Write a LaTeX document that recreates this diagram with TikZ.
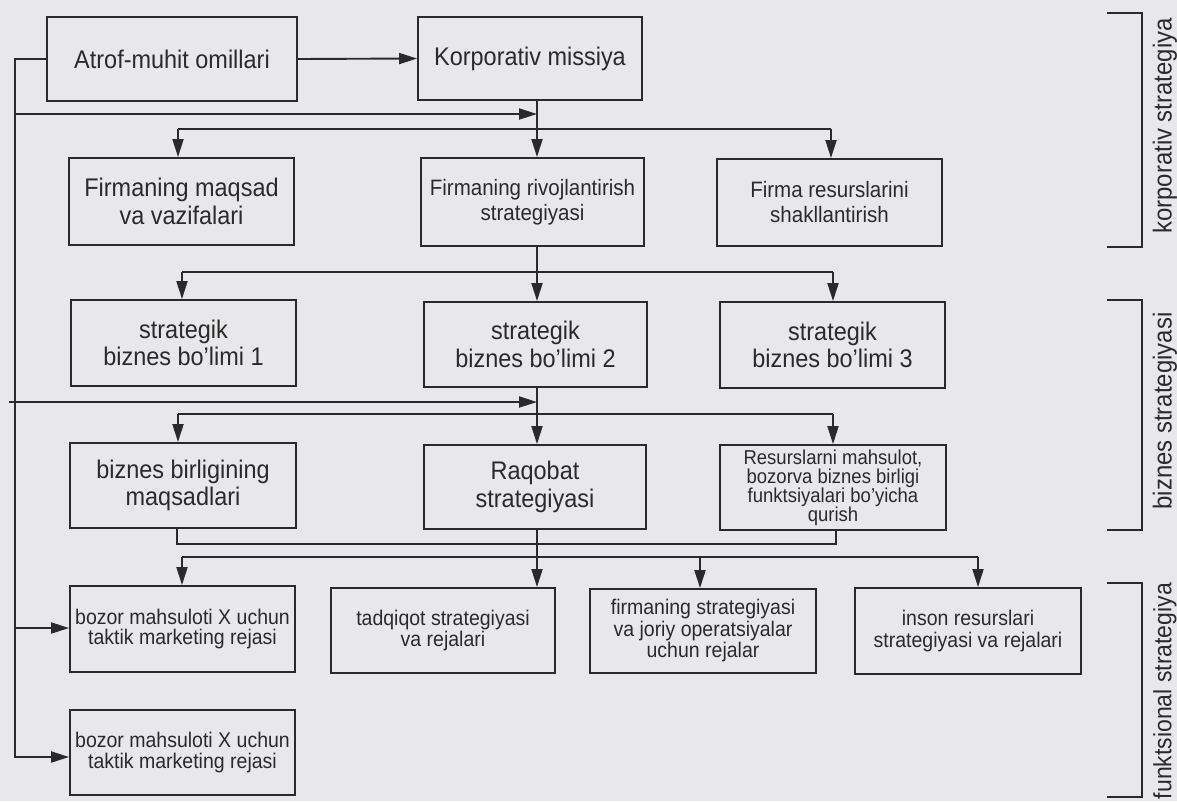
\documentclass[tikz,border=0pt]{standalone}
\usepackage{fontspec}
\setmainfont{Liberation Sans}[FakeStretch=0.92]
\usetikzlibrary{arrows.meta,calc}
\definecolor{bg}{RGB}{232,232,234}
\definecolor{ink}{RGB}{42,42,42}
\begin{document}
\begin{tikzpicture}[x=1pt,y=-1pt]
\tikzset{
 box/.style={draw=ink, line width=1.9pt, text=ink, inner sep=0pt, align=center, font=\fontsize{25.5}{27.5}\selectfont},
 mbox/.style={box, font=\fontsize{22.3}{25}\selectfont},
 sbox/.style={box, font=\fontsize{21.2}{20.5}\selectfont},
 ln/.style={draw=ink, line width=1.9pt},
 arr/.style={ln, -{Triangle[length=18pt,width=11pt]}},
 lab/.style={text=ink, rotate=90, font=\fontsize{26}{28}\selectfont, inner sep=0pt},
}
\fill[bg] (0,0) rectangle (1177,801);
\useasboundingbox (0,0) rectangle (1177,801);

% row 1
\node[box, minimum width=250pt, minimum height=84pt] (atrof) at (172,59) {Atrof-muhit omillari};
\node[box, minimum width=224pt, minimum height=83pt] (korp) at (530,58.5) {Korporativ missiya};
% row 2
\node[box, minimum width=225pt, minimum height=87pt] (maq) at (181.5,201.5) {Firmaning maqsad\\va vazifalari};
\node[mbox, minimum width=223pt, minimum height=88pt] (rivo) at (532.5,202) {Firmaning rivojlantirish\\strategiyasi};
\node[mbox, minimum width=225pt, minimum height=87pt] (fres) at (829.5,202.5) {Firma resurslarini\\shakllantirish};
% row 3
\node[box, minimum width=225pt, minimum height=86pt] (sb1) at (183.5,343) {strategik\\biznes bo'limi 1};
\node[box, minimum width=223pt, minimum height=85pt] (sb2) at (535.5,344.5) {strategik\\biznes bo'limi 2};
\node[box, minimum width=225pt, minimum height=86pt] (sb3) at (832.5,345) {strategik\\biznes bo'limi 3};
% row 4
\node[box, minimum width=226pt, minimum height=85pt] (bbm) at (183,485.5) {biznes birligining\\maqsadlari};
\node[box, minimum width=222pt, minimum height=84pt] (raq) at (535,487) {Raqobat\\strategiyasi};
\node[sbox, font=\fontsize{20.1}{19}\selectfont, minimum width=226pt, minimum height=85pt] (rbq) at (833,487.5) {Resurslarni mahsulot,\\bozorva biznes birligi\\funktsiyalari bo'yicha\\qurish};
% row 5
\node[sbox, minimum width=225pt, minimum height=86pt] (bz1) at (182.5,629) {bozor mahsuloti X uchun\\taktik marketing rejasi};
\node[sbox, minimum width=224pt, minimum height=85pt] (tad) at (443,630.5) {tadqiqot strategiyasi\\va rejalari};
\node[sbox, font=\fontsize{21.2}{21.5}\selectfont, minimum width=226pt, minimum height=84pt] (fsj) at (703,631) {firmaning strategiyasi\\va joriy operatsiyalar\\uchun rejalar};
\node[sbox, font=\fontsize{21.2}{22}\selectfont, minimum width=226pt, minimum height=86pt] (ins) at (968,631) {inson resurslari\\strategiyasi va rejalari};
% row 6
\node[sbox, minimum width=225pt, minimum height=85pt] (bz2) at (182.5,752.5) {bozor mahsuloti X uchun\\taktik marketing rejasi};

% side labels
\node[lab] (lk) at (1165,126) {korporativ strategiya};
\node[lab] (lb) at (1165,411) {biznes strategiyasi};
\node[lab, font=\fontsize{25}{27}\selectfont] (lf) at (1165,691) {funktsional strategiya};

% helper coordinates
\coordinate (v) at (537,0);
\coordinate (bus0) at (15,114);
\coordinate (bus1) at (15,628);
\coordinate (busB) at (15,757);
\coordinate (h1L) at (178,129);
\coordinate (h1R) at (831,129);
\coordinate (h2L) at (182,272);
\coordinate (h2R) at (833,272);
\coordinate (e3) at (9,402);
\coordinate (h3L) at (178,414);
\coordinate (h3R) at (833,414);
\coordinate (q1) at (177,544);
\coordinate (q2) at (836,544);
\coordinate (h4L) at (182,557);
\coordinate (h4M) at (700,557);
\coordinate (h4R) at (978,557);

% connectors
\draw[arr] (atrof.east) -- (korp.west);
\draw[arr] (atrof.west) -| (busB) -- (busB -| bz2.west);
\draw[arr] (bus1) -- (bus1 -| bz1.west);
\draw[arr] (bus0) -- (bus0 -| v);
\draw[arr] (korp.south -| v) -- (rivo.north -| v);
\draw[ln] (h1L) -- (h1R);
\draw[arr] (h1L) -- (h1L |- maq.north);
\draw[arr] (h1R) -- (h1R |- fres.north);

\draw[arr] (rivo.south -| v) -- (sb2.north -| v);
\draw[ln] (h2L) -- (h2R);
\draw[arr] (h2L) -- (h2L |- sb1.north);
\draw[arr] (h2R) -- (h2R |- sb3.north);

\draw[arr] (sb2.south -| v) -- (raq.north -| v);
\draw[arr] (e3) -- (e3 -| v);
\draw[ln] (h3L) -- (h3R);
\draw[arr] (h3L) -- (h3L |- bbm.north);
\draw[arr] (h3R) -- (h3R |- rbq.north);

\draw[ln] (bbm.south -| q1) -- (q1) -- (q2) -- (rbq.south -| q2);
\draw[arr] (raq.south -| v) -- (tad.north -| v);
\draw[ln] (h4L) -- (h4R);
\draw[arr] (h4L) -- (h4L |- bz1.north);
\draw[arr] (h4M) -- (h4M |- fsj.north);
\draw[arr] (h4R) -- (h4R |- ins.north);

% brackets
\draw[ln] (1107,13) -- (1142,13) -- (1142,247) -- (1107,247);
\draw[ln] (1107,300) -- (1142,300) -- (1142,530) -- (1107,530);
\draw[ln] (1107,583) -- (1142,583) -- (1142,797) -- (1107,797);
\end{tikzpicture}
\end{document}
